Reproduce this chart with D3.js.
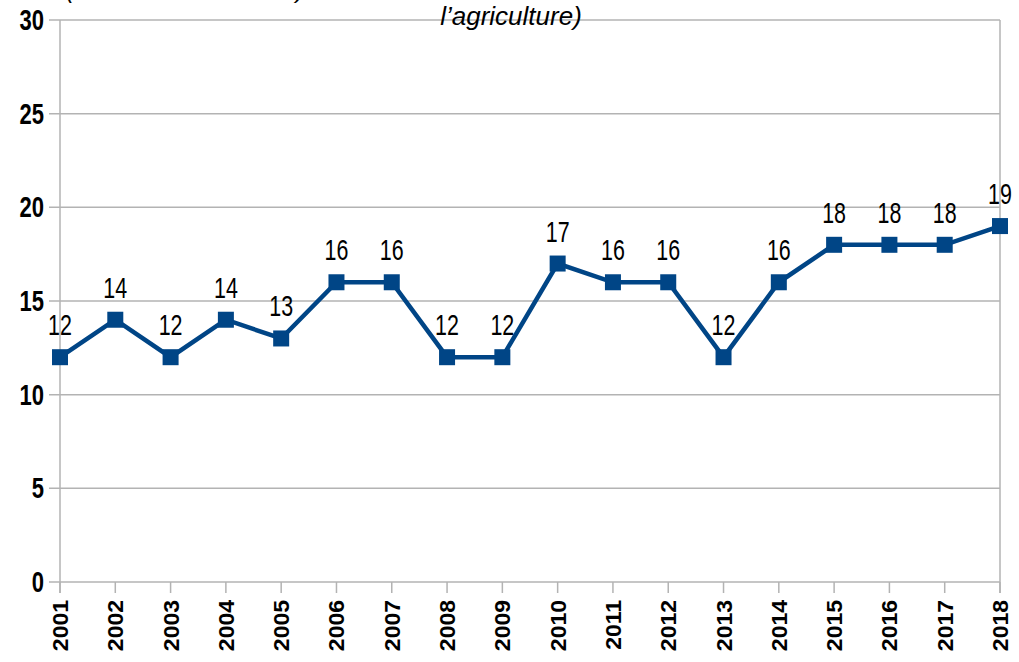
<!DOCTYPE html>
<html><head><meta charset="utf-8">
<script src="https://cdn.jsdelivr.net/npm/d3@7"></script>
<style>
html,body{margin:0;padding:0;background:#fff;}
svg{display:block;}
</style></head>
<body>
<svg id="chart" width="1019" height="662"></svg>
<script>
const years = ["2001","2002","2003","2004","2005","2006","2007","2008","2009","2010","2011","2012","2013","2014","2015","2016","2017","2018"];
const values = [12,14,12,14,13,16,16,12,12,17,16,16,12,16,18,18,18,19];
const yTicks = [0,5,10,15,20,25,30];
const titleTail = "l\u2019agriculture)";

const svg = d3.select("#chart");
const margin = {left:60, right:19, top:20, bottom:80};
const W = 1019, H = 662;

const x = d3.scalePoint().domain(years).range([margin.left, W - margin.right]);
const y = d3.scaleLinear().domain([0,30]).range([H - margin.bottom, margin.top]);

const grid = "#b3b3b3";
const font = "'Liberation Sans',Arial,sans-serif";

// horizontal grid lines
svg.append("g").selectAll("line").data(yTicks).join("line")
  .attr("x1", margin.left - 11).attr("x2", W - margin.right)
  .attr("y1", d => y(d)).attr("y2", d => y(d))
  .attr("stroke", grid).attr("stroke-width", 1.5);

// left axis line and right edge line
svg.append("line").attr("x1", margin.left).attr("x2", margin.left)
  .attr("y1", y(30)).attr("y2", y(0) + 11).attr("stroke", grid).attr("stroke-width", 1.5);
svg.append("line").attr("x1", W - margin.right).attr("x2", W - margin.right)
  .attr("y1", y(30)).attr("y2", y(0) + 11).attr("stroke", grid).attr("stroke-width", 1.5);

// x ticks
svg.append("g").selectAll("line").data(years).join("line")
  .attr("x1", d => x(d)).attr("x2", d => x(d))
  .attr("y1", y(0)).attr("y2", y(0) + 11)
  .attr("stroke", grid).attr("stroke-width", 1.5);

// y labels (condensed)
svg.append("g").selectAll("text").data(yTicks).join("text")
  .attr("transform", d => `translate(44,${y(d) + 10}) scale(0.76,1)`)
  .attr("text-anchor", "end")
  .attr("font-family", font)
  .attr("font-weight", "bold").attr("font-size", 29)
  .attr("fill", "#000")
  .text(d => d);

// x labels rotated
svg.append("g").selectAll("text").data(years).join("text")
  .attr("transform", d => `translate(${x(d) + 8},600) rotate(-90) scale(1,0.92)`)
  .attr("text-anchor", "end")
  .attr("font-family", font)
  .attr("font-weight", "bold").attr("font-size", 23)
  .attr("fill", "#000")
  .text(d => d);

const color = "#004586";
const pts = years.map((d,i) => ({year:d, v:values[i]}));

svg.append("path").datum(pts)
  .attr("fill", "none").attr("stroke", color).attr("stroke-width", 4.5)
  .attr("stroke-linejoin", "miter")
  .attr("d", d3.line().x(d => x(d.year)).y(d => y(d.v)));

svg.append("g").selectAll("rect").data(pts).join("rect")
  .attr("x", d => x(d.year) - 8).attr("y", d => y(d.v) - 8)
  .attr("width", 16).attr("height", 16).attr("fill", color);

// data labels (condensed)
svg.append("g").selectAll("text").data(pts).join("text")
  .attr("transform", d => `translate(${x(d.year)},${y(d.v) - 22}) scale(0.74,1)`)
  .attr("text-anchor", "middle")
  .attr("font-family", font)
  .attr("font-size", 29).attr("fill", "#000")
  .text(d => d.v);

// title fragments
svg.append("text").attr("x", 511).attr("y", 25).attr("text-anchor", "middle")
  .attr("font-family", font).attr("font-style", "italic")
  .attr("font-size", 26).attr("fill", "#000").text(titleTail);
svg.append("text").attr("x", 66).attr("y", -2)
  .attr("font-family", font).attr("font-style", "italic")
  .attr("font-size", 24).attr("fill", "#000").text("(");
svg.append("text").attr("x", 296).attr("y", -2)
  .attr("font-family", font).attr("font-style", "italic")
  .attr("font-size", 24).attr("fill", "#000").text(")");
</script>
</body></html>
